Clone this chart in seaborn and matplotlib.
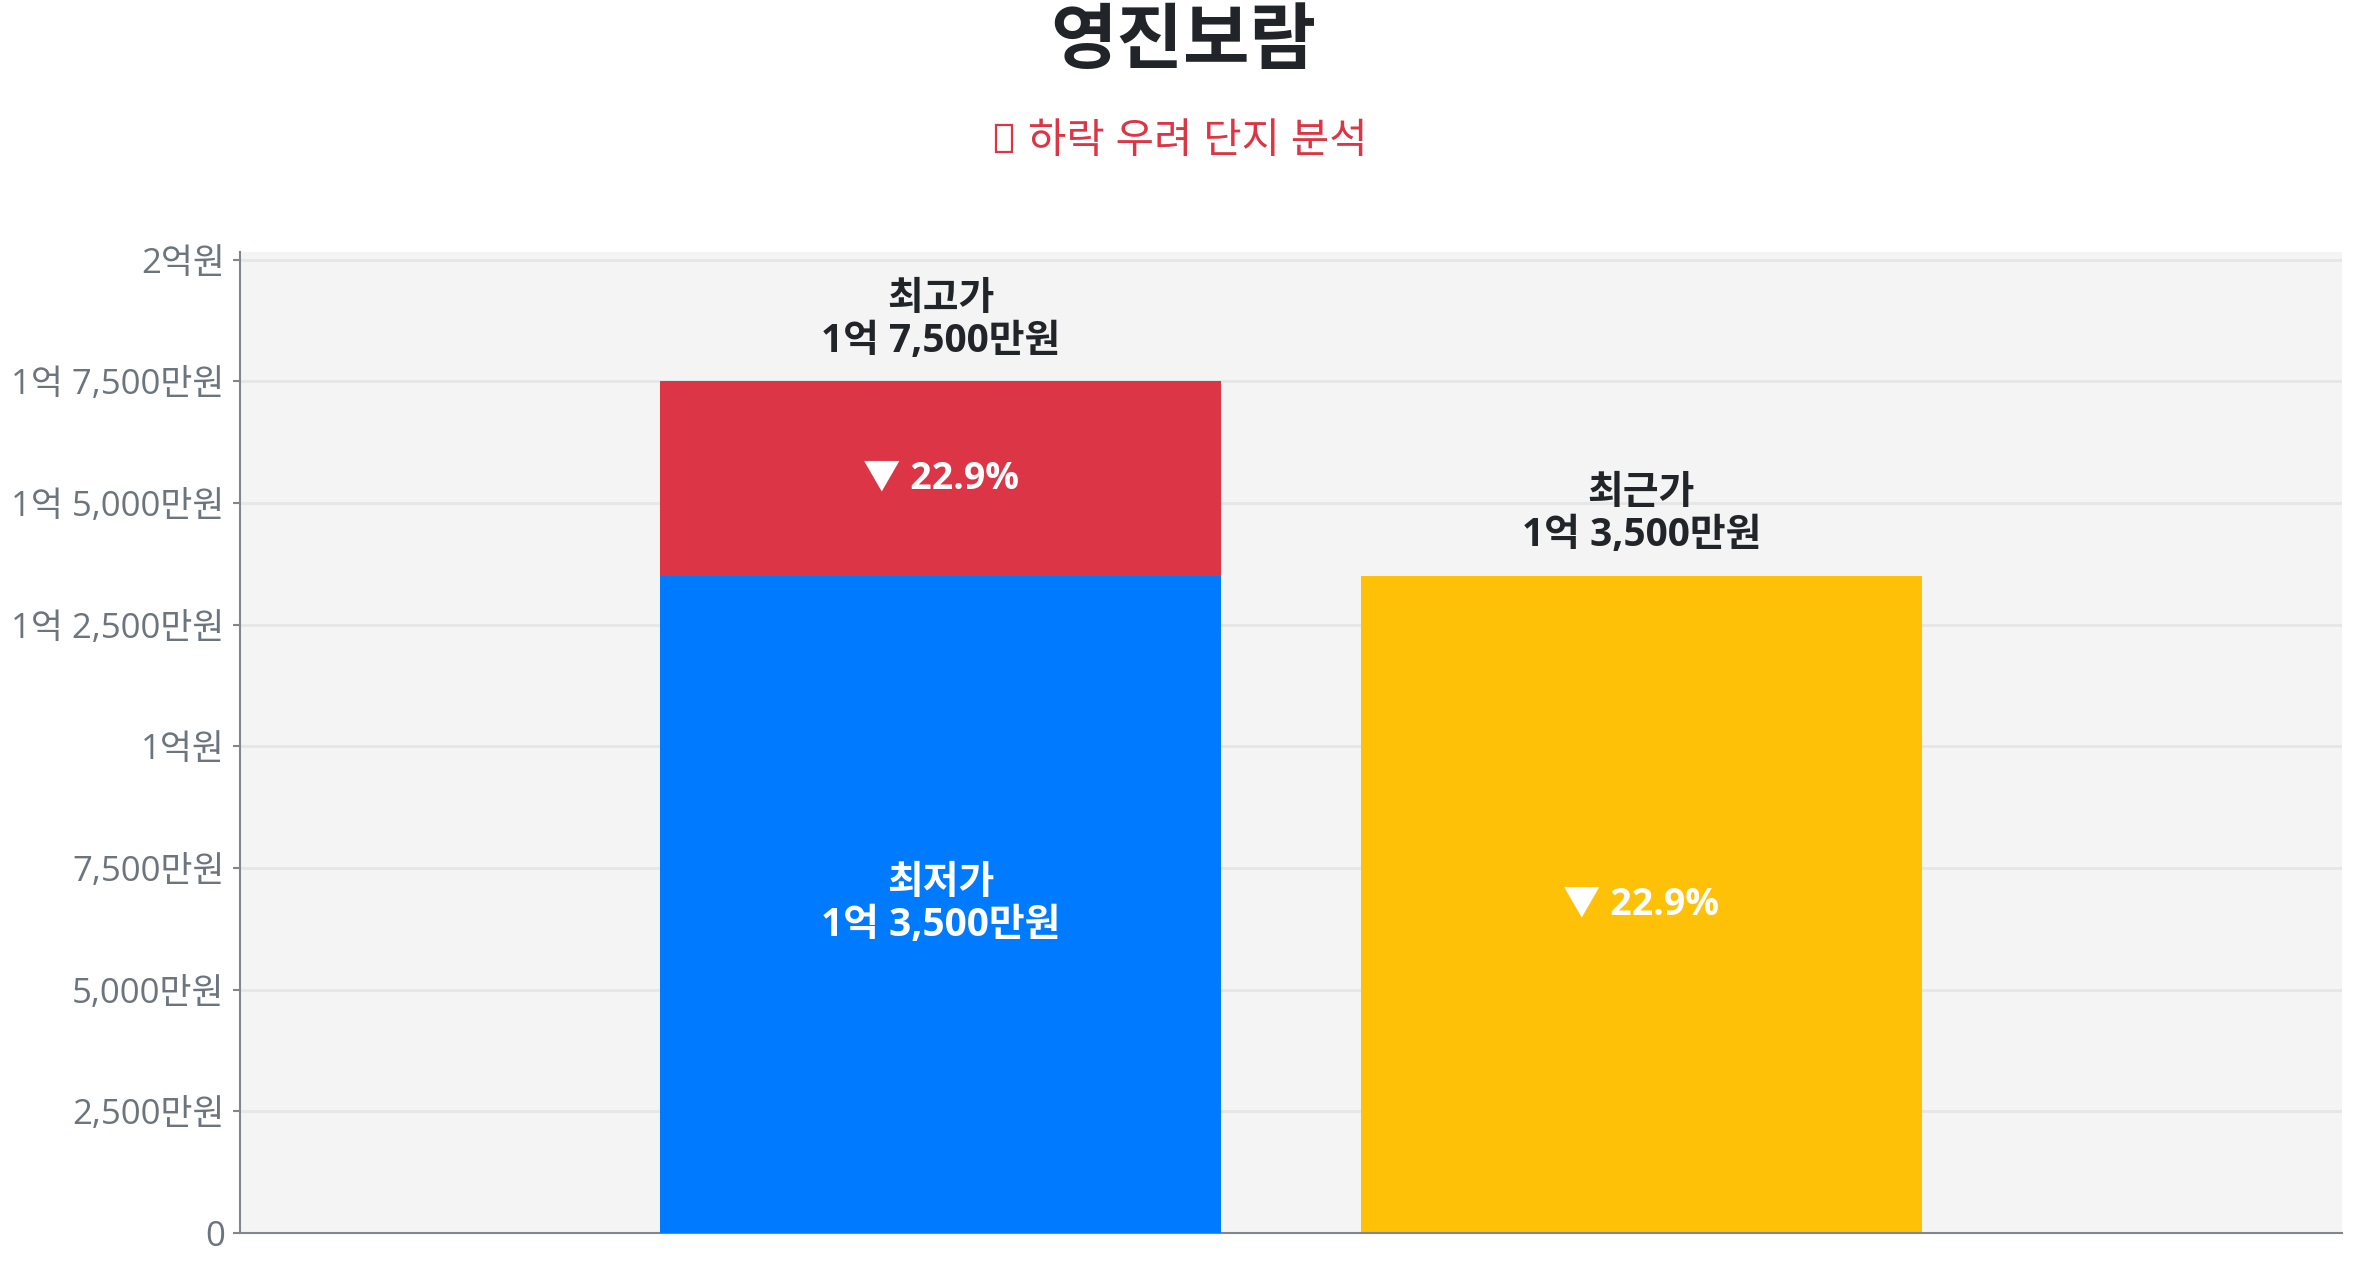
import matplotlib
matplotlib.use("Agg")
import matplotlib.pyplot as plt
import seaborn as sns
import pandas as pd
from matplotlib.ticker import FuncFormatter
from matplotlib.patches import Rectangle

# data (원)
categories = ["최고가/최저가", "최근가"]
high_price = 175000000
low_price = 135000000
recent_price = 135000000
y_ticks = [0, 25000000, 50000000, 75000000, 100000000, 125000000, 150000000, 175000000, 200000000]

title = "영진보람"
subtitle = "하락 우려 단지 분석"   # the emoji in front has no glyph anywhere, drawn as a box

RED = "#dc3545"
BLUE = "#007bff"
YELLOW = "#ffc107"
DARK = "#212529"
GREY = "#6c757d"


def won(v, pos=None):
    v = int(round(v))
    if v == 0:
        return "0"
    eok, man = divmod(v, 100000000)
    man = man // 10000
    if eok and man:
        return f"{eok}억 {man:,}만원"
    if eok:
        return f"{eok}억원"
    return f"{man:,}만원"


sns.set_theme(style="white")
plt.rcParams["font.family"] = ["Open Sans", "Noto Sans CJK KR", "DejaVu Sans"]

fig = plt.figure(figsize=(23.57, 12.68), dpi=100)
ax = fig.add_axes([0.1018, 0.0276, 0.8918, 0.7737])
ax.set_facecolor("#f4f4f4")

top_df = pd.DataFrame({"cat": categories, "value": [high_price, recent_price]})
base_df = pd.DataFrame({"cat": categories[:1], "value": [low_price]})

sns.barplot(data=top_df, x="cat", y="value", hue="cat", order=categories,
            palette=[RED, YELLOW], legend=False, width=0.8, ax=ax,
            saturation=1, linewidth=0, zorder=2)
sns.barplot(data=base_df, x="cat", y="value", order=categories,
            color=BLUE, width=0.8, ax=ax, saturation=1, linewidth=0, zorder=3)

ax.set_xlim(-1, 2)
ax.set_ylim(0, 201600000)
ax.set_yticks(y_ticks)
ax.yaxis.set_major_formatter(FuncFormatter(won))
ax.set_xticks([])
ax.set_xlabel("")
ax.set_ylabel("")
ax.grid(axis="y", color="#e6e6e6", linewidth=2, zorder=0)
ax.set_axisbelow(True)
for side in ["top", "right"]:
    ax.spines[side].set_visible(False)
for side in ["left", "bottom"]:
    ax.spines[side].set_color("#80868c")
    ax.spines[side].set_linewidth(1.5)
ax.tick_params(axis="y", left=True, length=5, width=1.5, color="#80868c",
               labelsize=25, labelcolor=GREY, pad=6)

drop = (high_price - low_price) / high_price * 100
recent_drop = (high_price - recent_price) / high_price * 100

# labels above bars
lab = dict(ha="center", fontsize=28, fontweight="bold", linespacing=1.1)
ax.annotate(f"최고가\n{won(high_price)}", (0, high_price), xytext=(0, 15),
            textcoords="offset points", va="bottom", color=DARK, **lab)
ax.annotate(f"최근가\n{won(recent_price)}", (1, recent_price), xytext=(0, 15),
            textcoords="offset points", va="bottom", color=DARK, **lab)

# labels inside bars
ax.text(0, (high_price + low_price) / 2, f"▼ {drop:.1f}%", ha="center", va="center",
        fontsize=27, fontweight="bold", color="white", zorder=5)
ax.text(0, low_price / 2, f"최저가\n{won(low_price)}", va="center",
        color="white", zorder=5, **lab)
ax.text(1, recent_price / 2, f"▼ {recent_drop:.1f}%", ha="center", va="center",
        fontsize=27, fontweight="bold", color="white", zorder=5)

fig.text(0.502, 0.965, title, ha="center", va="center", fontsize=52,
         fontweight="bold", color=DARK)
fig.text(0.508, 0.888, subtitle, ha="center", va="center", fontsize=30,
         color=RED)
fig.patches.append(Rectangle((0.4225, 0.880), 0.0068, 0.0213, fill=False,
                             edgecolor=RED, linewidth=1.6,
                             transform=fig.transFigure, figure=fig))

fig.savefig("out.png", dpi=100)
